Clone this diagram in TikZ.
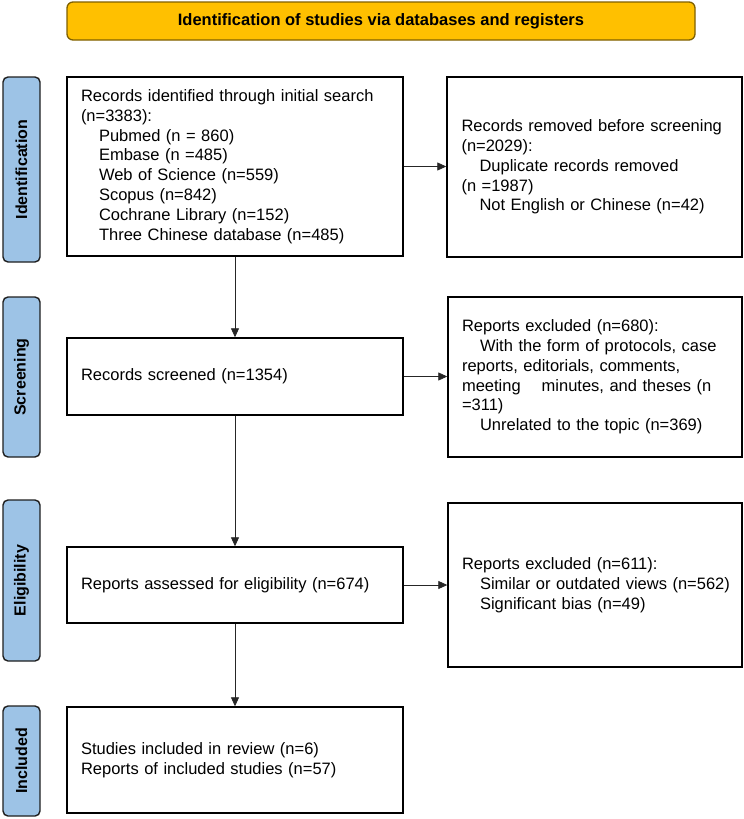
\documentclass[tikz,border=0pt]{standalone}
\usepackage{fontspec}
\setmainfont{Liberation Sans}
\usetikzlibrary{arrows.meta}
\definecolor{bannerfill}{HTML}{FFC000}
\definecolor{bannerdraw}{HTML}{7F6000}
\definecolor{phasefill}{HTML}{9DC3E6}
\definecolor{phasedraw}{HTML}{1F1F1F}
\tikzset{
  box/.style={draw=black, line width=1.4pt, fill=white, rectangle, inner sep=0pt,
    align=left, font=\fontsize{16.5}{19.8}\selectfont},
  phase/.style={draw=phasedraw, line width=1.4pt, fill=phasefill, rounded corners=5pt,
    inner sep=0pt, minimum width=37pt, font=\bfseries\fontsize{16}{18}\selectfont},
  arr/.style={draw=black!85, line width=0.8pt, -{Triangle[length=9pt,width=8pt]}},
}
\newcommand{\ind}{\hspace*{18pt}}
\begin{document}
\begin{tikzpicture}[x=1pt,y=-1pt]
\useasboundingbox (0,0) rectangle (744,819);
% banner
\node[draw=bannerdraw, line width=1.3pt, fill=bannerfill, rounded corners=6pt,
  minimum width=628pt, minimum height=38pt, inner sep=0pt,
  font=\bfseries\fontsize{16.5}{19.8}\selectfont] (banner) at (381,21)
  {Identification of studies via databases and registers};
% phase labels
\node[phase, minimum height=185pt] (pid) at (21.5,169.5) {\rotatebox{90}{Identification}};
\node[phase, minimum height=160pt] (psc) at (21.5,377) {\rotatebox{90}{Screening}};
\node[phase, minimum height=161pt] (pel) at (21.5,580.5) {\rotatebox{90}{Eligibility}};
\node[phase, minimum height=110pt] (pin) at (21.5,761) {\rotatebox{90}{Included}};
% main boxes
\node[box, minimum width=336pt, minimum height=179pt, text width=308pt] (b1) at (235,166.5)
  {Records identified through initial search\\
   (n=3383):\\
   \ind Pubmed (n = 860)\\
   \ind Embase (n =485)\\
   \ind Web of Science (n=559)\\
   \ind Scopus (n=842)\\
   \ind Cochrane Library (n=152)\\
   \ind Three Chinese database (n=485)};
\node[box, minimum width=336pt, minimum height=77pt, text width=308pt] (b2) at (235,376.5)
  {Records screened (n=1354)};
\node[box, minimum width=336pt, minimum height=76pt, text width=308pt] (b3) at (235,585)
  {Reports assessed for eligibility (n=674)};
\node[box, minimum width=336pt, minimum height=106pt, text width=308pt] (b4) at (235,760)
  {Studies included in review (n=6)\\
   Reports of included studies (n=57)};
% right boxes
\node[box, minimum width=295pt, minimum height=180pt, text width=266pt] (r1) at (594.5,167)
  {Records removed before screening\\
   (n=2029):\\
   \ind Duplicate records removed\\
   (n =1987)\\
   \ind Not English or Chinese (n=42)};
\node[box, minimum width=294pt, minimum height=160pt, text width=266pt] (r2) at (595,377)
  {Reports excluded (n=680):\\
   \ind With the form of protocols, case\\
   reports, editorials, comments,\\
   meeting\hspace{21pt}minutes, and theses (n\\
   =311)\\
   \ind Unrelated to the topic (n=369)};
\node[box, minimum width=294pt, minimum height=164pt, text width=266pt] (r3) at (595,585)
  {Reports excluded (n=611):\\
   \ind \mbox{Similar or outdated views (n=562)}\\
   \ind Significant bias (n=49)};
% connectors
\draw[arr] (b1.south) -- (b2.north);
\draw[arr] (b2.south) -- (b3.north);
\draw[arr] (b3.south) -- (b4.north);
\draw[arr] (b1.east) -- (b1.east -| r1.west);
\draw[arr] (b2.east) -- (b2.east -| r2.west);
\draw[arr] (b3.east) -- (b3.east -| r3.west);
\end{tikzpicture}
\end{document}
